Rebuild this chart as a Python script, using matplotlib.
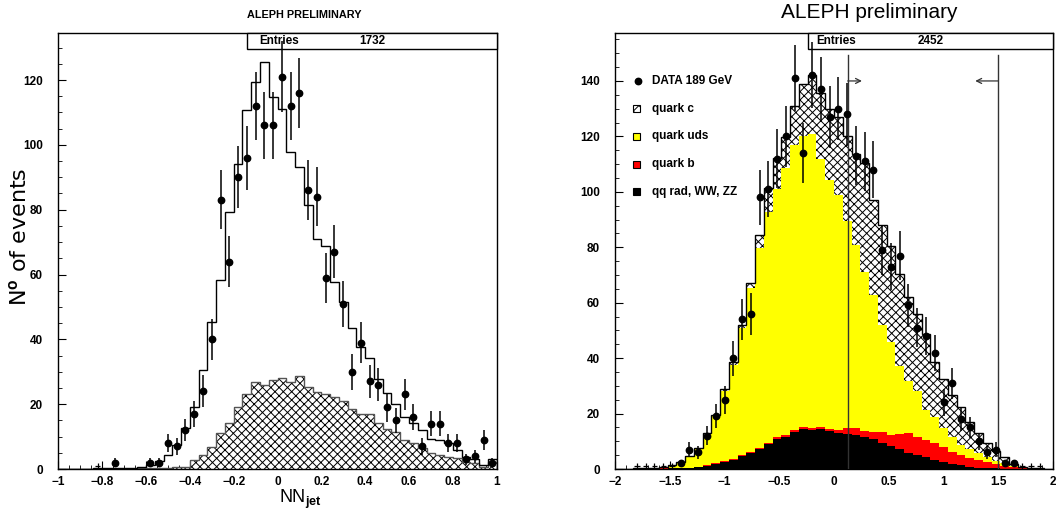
import numpy as np
import matplotlib
matplotlib.use("Agg")
import matplotlib.pyplot as plt
from matplotlib.patches import Rectangle
from matplotlib.ticker import MultipleLocator, FuncFormatter

plt.rcParams['font.family'] = ['Liberation Sans', 'DejaVu Sans']
plt.rcParams['font.weight'] = 'bold'
plt.rcParams['mathtext.fontset'] = 'custom'
plt.rcParams['mathtext.rm'] = 'Liberation Sans'
plt.rcParams['mathtext.bf'] = 'Liberation Sans:bold'
plt.rcParams['hatch.linewidth'] = 0.7

# ---- left panel: NN_jet, 50 bins in [-1, 1] ----
left_edges = np.linspace(-1, 1, 51)
left_mc_total = [0, 0, 0, 0, 0.3, 0.3, 0.3, 0.3, 0.3, 0.5,
                 1.2, 2.6, 4.3, 7.4, 12.5, 19.2, 30.5, 45.4, 58.4, 79.2,
                 94.1, 110.8, 119.3, 125.7, 114.9, 111.1, 97.7, 93.3, 81.3, 70.8,
                 68.7, 57.7, 51.5, 43.6, 37.5, 34.1, 27.9, 23.3, 20.2, 15.9,
                 14.3, 12.0, 9.4, 9.1, 7.9, 6.0, 3.8, 3.0, 1.2, 3.0]
left_mc_hatched = [0, 0, 0, 0, 0, 0, 0, 0, 0.1, 0.2,
                   0.3, 0.3, 0.4, 0.5, 0.7, 2.8, 4.3, 6.7, 11.2, 14.1,
                   19.2, 23.1, 26.9, 25.9, 27.4, 28.2, 26.9, 28.6, 25.2, 23.8,
                   23.1, 22.3, 21.0, 18.4, 17.1, 17.0, 14.3, 12.2, 11.5, 8.9,
                   7.9, 6.4, 4.8, 4.3, 3.8, 3.3, 2.3, 1.7, 0.7, 2.3]
left_data = [0, 0, 0, 0, 1, 0, 2, 0, 0, 0,
             2, 2, 8, 7, 12, 17, 24, 40, 83, 64,
             90, 96, 112, 106, 106, 121, 112, 116, 86, 84,
             59, 67, 51, 30, 39, 27, 26, 19, 15, 23,
             16, 7, 14, 14, 8, 8, 3, 4, 9, 2]
left_entries = 1732

# ---- right panel: 50 bins in [-2, 2] ----
right_edges = np.linspace(-2, 2, 51)
qq_rad_ww_zz = [0, 0, 0.05, 0.1, 0.1, 0.15, 0.2, 0.3, 0.4, 0.6,
                1.1, 1.8, 2.6, 3.2, 4.7, 5.7, 7.1, 9.0, 10.8, 11.7,
                13.5, 14.4, 14.1, 14.3, 13.8, 13.1, 12.6, 12.2, 11.7, 10.7,
                9.5, 8.3, 7.1, 5.9, 5.1, 4.2, 3.2, 2.5, 1.8, 1.3,
                0.8, 0.5, 0.3, 0.2, 0.15, 0.1, 0.05, 0, 0, 0]
quark_b = [0, 0, 0, 0, 0, 0.05, 0.05, 0.1, 0.1, 0.15,
           0.2, 0.2, 0.3, 0.3, 0.4, 0.5, 0.5, 0.5, 0.6, 0.6,
           0.6, 0.6, 0.6, 0.7, 0.8, 1.0, 2.1, 2.5, 2.1, 2.8,
           3.8, 4.0, 5.5, 7.2, 6.6, 6.3, 6.1, 5.3, 4.5, 3.8,
           3.1, 2.6, 2.1, 1.7, 1.05, 0.6, 0.35, 0.1, 0.1, 0.05]
quark_uds = [0, 0.05, 0.05, 0.1, 0.3, 0.4, 0.85, 1.6, 3.7, 6.35,
             11.0, 17.1, 25.4, 34.0, 45.7, 59.0, 72.0, 83.4, 89.5, 96.2,
             102.8, 105.2, 106.2, 96.8, 89.7, 84.8, 74.6, 66.1, 57.4, 49.3,
             38.7, 33.6, 24.6, 18.8, 16.6, 10.8, 9.3, 6.9, 5.4, 3.6,
             3.2, 2.6, 1.8, 0.9, 0.8, 0.5, 0.2, 0.2, 0.05, 0]
quark_c = [0, 0.05, 0.1, 0.1, 0.1, 0.3, 0.2, 0.4, 0.5, 0.5,
           0.7, 0.5, 0.6, 1.0, 1.2, 2.0, 4.8, 8.4, 11.2, 11.4,
           13.9, 18.7, 21.3, 23.8, 25.5, 28.0, 30.9, 32.9, 39.3, 34.3,
           36.0, 34.6, 33.2, 30.3, 27.6, 27.4, 20.1, 17.7, 15.0, 13.8,
           10.0, 7.4, 5.3, 3.8, 2.2, 0.6, 0.2, 0.1, 0.05, 0.05]
right_data = [0, 0, 1, 1, 1, 1, 1, 2, 7, 6,
              12, 19, 25, 40, 54, 56, 98, 101, 112, 120,
              141, 114, 142, 137, 127, 130, 128, 113, 111, 108,
              79, 73, 77, 59, 51, 48, 42, 24, 31, 18,
              15, 10, 6, 7, 2, 2, 1, 1, 1, 0]
right_entries = 2452
right_cuts = [0.125, 1.5]
legend_labels = ["DATA 189 GeV", "quark c", "quark uds", "quark b", "qq rad, WW, ZZ"]


def fmt(v, pos):
    v = round(v, 6)
    if v == 0:
        return "0"
    return f"{v:g}".replace("-", "\u2212")


def style_axes(ax, xmaj, xmin, ymax):
    ax.xaxis.set_major_locator(MultipleLocator(xmaj))
    ax.xaxis.set_minor_locator(MultipleLocator(xmin))
    ax.yaxis.set_major_locator(MultipleLocator(20))
    ax.yaxis.set_minor_locator(MultipleLocator(5))
    ax.xaxis.set_major_formatter(FuncFormatter(fmt))
    ax.tick_params(which='both', direction='in', top=False, right=False, labelsize=8.5)
    ax.tick_params(which='major', length=6)
    ax.tick_params(which='minor', length=3)
    ax.tick_params(axis='y', pad=11)
    ax.tick_params(axis='x', pad=5)
    for s in ax.spines.values():
        s.set_linewidth(1.0)
    ax.set_ylim(0, ymax)


def draw_data(ax, edges, data, ms=4.6):
    centers = 0.5 * (edges[:-1] + edges[1:])
    data = np.asarray(data, dtype=float)
    pts = data >= 2
    ax.errorbar(centers[pts], data[pts], yerr=np.sqrt(data[pts]), fmt='o',
                color='black', ms=ms, elinewidth=1.1, capsize=0, zorder=5)
    ones = data == 1
    ax.errorbar(centers[ones], data[ones], yerr=1, xerr=0.012 * (edges[-1] - edges[0]) / 2,
                fmt='none', ecolor='black', elinewidth=0.9, capsize=0, zorder=5)


def entries_box(ax, x0, xtxt, xnum, n):
    ax.add_patch(Rectangle((x0, 0.963), 1 - x0, 0.037, transform=ax.transAxes,
                           facecolor='white', edgecolor='black', lw=1.0,
                           clip_on=False, zorder=4))
    ax.text(xtxt, 0.9815, "Entries", transform=ax.transAxes, fontsize=8.5,
            ha='left', va='center', zorder=4.5)
    ax.text(xnum, 0.9815, str(n), transform=ax.transAxes, fontsize=8.5,
            ha='center', va='center', zorder=4.5)


fig = plt.figure(figsize=(10.58, 5.11), dpi=100)
axl = fig.add_axes([58.3 / 1058, 42 / 511, 438.4 / 1058, 436 / 511])
axr = fig.add_axes([615 / 1058, 42 / 511, 438 / 1058, 436 / 511])

# ---- left ----
axl.stairs(left_mc_hatched, left_edges, fill=True, facecolor='white',
           edgecolor='black', hatch='xxxx', lw=0.6, zorder=2)
axl.stairs(left_mc_hatched, left_edges, color='#555555', lw=1.0, zorder=2.2)
axl.stairs(left_mc_total, left_edges, color='black', lw=1.0, zorder=2.4)
draw_data(axl, left_edges, left_data)
axl.set_xlim(-1, 1)
style_axes(axl, 0.2, 0.05, 134.5)
entries_box(axl, 0.4298, 0.458, 0.717, left_entries)

# ---- right ----
bkg = np.asarray(qq_rad_ww_zz)
top_b = bkg + np.asarray(quark_b)
top_uds = top_b + np.asarray(quark_uds)
top_c = top_uds + np.asarray(quark_c)
axr.stairs(bkg, right_edges, fill=True, color='black', lw=0, zorder=2)
axr.stairs(top_b, right_edges, baseline=bkg, fill=True, color='#ff0000', lw=0, zorder=2)
axr.stairs(top_uds, right_edges, baseline=top_b, fill=True, color='#ffff00', lw=0, zorder=2)
axr.stairs(top_c, right_edges, baseline=top_uds, fill=True, facecolor='white',
           edgecolor='black', hatch='xxxx', lw=0, zorder=2)
axr.stairs(top_c, right_edges, color='black', lw=1.0, zorder=2.4)
draw_data(axr, right_edges, right_data)
axr.set_xlim(-2, 2)
style_axes(axr, 0.5, 0.1, 157.3)
entries_box(axr, 0.44, 0.4605, 0.7215, right_entries)

# cut lines with arrows
for xc, dx in zip(right_cuts, [0.13, -0.21]):
    axr.plot([xc, xc], [0, 149.4], color='#333333', lw=1.0, zorder=3)
    axr.annotate("", xy=(xc + dx, 140), xytext=(xc, 140),
                 arrowprops=dict(arrowstyle='->', color='#333333', lw=0.9,
                                 mutation_scale=9, shrinkA=0, shrinkB=0), zorder=3)

# legend drawn in data coordinates
leg_y = [140, 130, 120, 110, 100]
axr.plot([-1.79], [leg_y[0]], 'o', color='black', ms=4.6, zorder=5)
box_fc = ['white', '#ffff00', '#ff0000', 'black']
box_hatch = ['xxx', None, None, None]
for y, fc, h in zip(leg_y[1:], box_fc, box_hatch):
    axr.add_patch(Rectangle((-1.835, y - 1.25), 0.064, 2.5, facecolor=fc,
                            edgecolor='black', hatch=h, lw=0.8, zorder=5))
for y, lab in zip(leg_y, legend_labels):
    axr.text(-1.66, y, lab, fontsize=8.5, ha='left', va='center', zorder=5)

# titles and axis labels
fig.text(304 / 1058, 1 - 15 / 511, "ALEPH PRELIMINARY", fontsize=7.8,
         ha='center', va='center')
fig.text(869 / 1058, 1 - 13 / 511, "ALEPH preliminary", fontsize=15,
         fontweight='normal', ha='center', va='center')
fig.text(19 / 1058, 1 - 237 / 511, r"N$^{\rm o}$ of events", fontsize=16,
         family=['DejaVu Sans'], fontweight='normal', rotation=90,
         ha='center', va='center')
fig.text(300 / 1058, 1 - 488 / 511, r"NN$_{\bf jet}$", fontsize=13,
         fontweight='normal', ha='center', va='top')

fig.savefig("out.png", dpi=100)
